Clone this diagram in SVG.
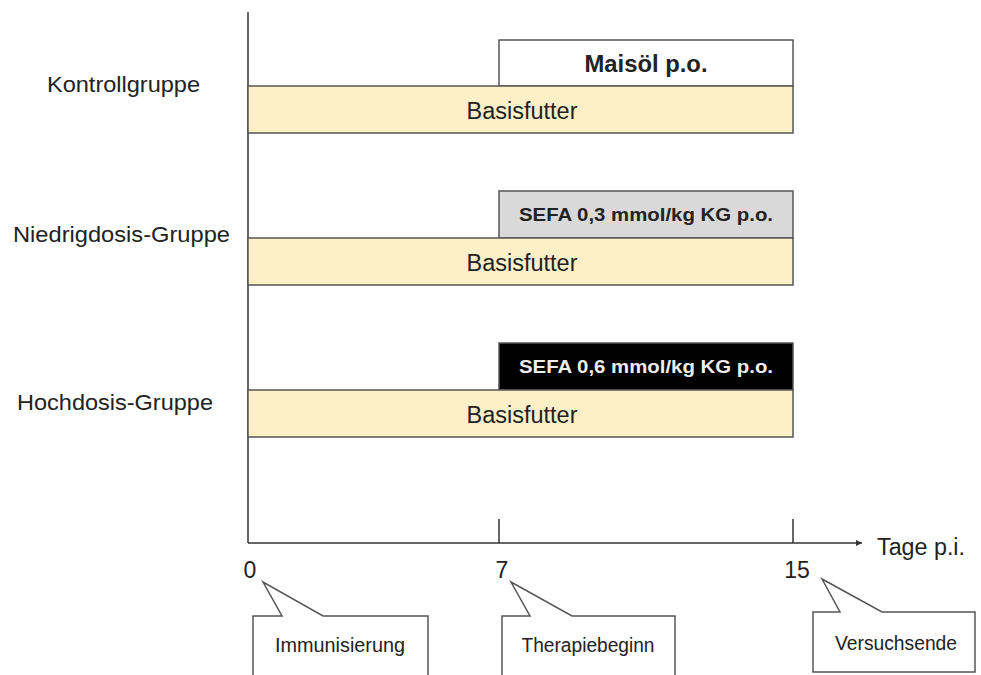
<svg xmlns="http://www.w3.org/2000/svg" width="981" height="675" viewBox="0 0 981 675">
<style>
.t{font-family:"Liberation Sans",Arial,sans-serif;fill:#222}
.lbl{font-size:22px}
.bar{fill:#fdf0c9;stroke:#555;stroke-width:1.5}
.box{stroke:#555;stroke-width:1.5}
.ax{stroke:#333;stroke-width:1.5;fill:none}
.co{fill:#fff;stroke:#555;stroke-width:1.5}
.b{font-weight:bold}
</style>
<defs>
<marker id="arr" markerWidth="8" markerHeight="8" refX="6" refY="3" orient="auto" markerUnits="userSpaceOnUse">
<path d="M0,0 L6,3 L0,6 Z" fill="#333"/>
</marker>
</defs>
<g id="connectors">
<line class="ax" x1="248" y1="12" x2="248" y2="543"/>
<line class="ax" x1="248" y1="543" x2="862" y2="543" marker-end="url(#arr)"/>
<line class="ax" x1="499" y1="519" x2="499" y2="543"/>
<line class="ax" x1="793" y1="519" x2="793" y2="543"/>
</g>
<g id="axis-labels">
<text class="t" x="877" y="555" font-size="23" textLength="88" lengthAdjust="spacingAndGlyphs">Tage p.i.</text>
<text class="t" x="250" y="578" font-size="23" text-anchor="middle">0</text>
<text class="t" x="502" y="578" font-size="23" text-anchor="middle">7</text>
<text class="t" x="797" y="578" font-size="23" text-anchor="middle">15</text>
</g>
<g id="kontrollgruppe">
<text class="t lbl" x="47" y="92" textLength="153" lengthAdjust="spacingAndGlyphs">Kontrollgruppe</text>
<rect class="box" x="499" y="40" width="294" height="46" fill="#fff"/>
<text class="t b" x="646" y="72" font-size="23" text-anchor="middle" textLength="123" lengthAdjust="spacingAndGlyphs">Maisöl p.o.</text>
<rect class="bar" x="248" y="86" width="545" height="47"/>
<text class="t" x="522" y="119" font-size="23" text-anchor="middle" textLength="111" lengthAdjust="spacingAndGlyphs">Basisfutter</text>
</g>
<g id="niedrigdosis">
<text class="t lbl" x="13" y="242" textLength="217" lengthAdjust="spacingAndGlyphs">Niedrigdosis-Gruppe</text>
<rect class="box" x="499" y="191" width="294" height="47" fill="#d9d9d9"/>
<text class="t b" x="646" y="221" font-size="19" text-anchor="middle" textLength="254" lengthAdjust="spacingAndGlyphs">SEFA 0,3 mmol/kg KG p.o.</text>
<rect class="bar" x="248" y="238" width="545" height="47"/>
<text class="t" x="522" y="271" font-size="23" text-anchor="middle" textLength="111" lengthAdjust="spacingAndGlyphs">Basisfutter</text>
</g>
<g id="hochdosis">
<text class="t lbl" x="17" y="410" textLength="196" lengthAdjust="spacingAndGlyphs">Hochdosis-Gruppe</text>
<rect class="box" x="499" y="343" width="294" height="47" fill="#000"/>
<text class="t b" x="646" y="373" font-size="19" text-anchor="middle" textLength="254" lengthAdjust="spacingAndGlyphs" style="fill:#eee">SEFA 0,6 mmol/kg KG p.o.</text>
<rect class="bar" x="248" y="390" width="545" height="47"/>
<text class="t" x="522" y="423" font-size="23" text-anchor="middle" textLength="111" lengthAdjust="spacingAndGlyphs">Basisfutter</text>
</g>
<g id="immunisierung">
<path class="co" d="M253,676 L253,616 L282,616 L263,582 L323,616 L428,616 L428,676"/>
<text class="t" x="340" y="652" font-size="20" text-anchor="middle" textLength="130" lengthAdjust="spacingAndGlyphs">Immunisierung</text>
</g>
<g id="therapiebeginn">
<path class="co" d="M502,676 L502,616 L530,616 L511,582 L572,616 L675,616 L675,676"/>
<text class="t" x="588" y="652" font-size="20" text-anchor="middle" textLength="133" lengthAdjust="spacingAndGlyphs">Therapiebeginn</text>
</g>
<g id="versuchsende">
<path class="co" d="M813,672 L813,612 L840,612 L822,579 L882,612 L975,612 L975,672 Z"/>
<text class="t" x="896" y="650" font-size="20" text-anchor="middle" textLength="122" lengthAdjust="spacingAndGlyphs">Versuchsende</text>
</g>
</svg>
